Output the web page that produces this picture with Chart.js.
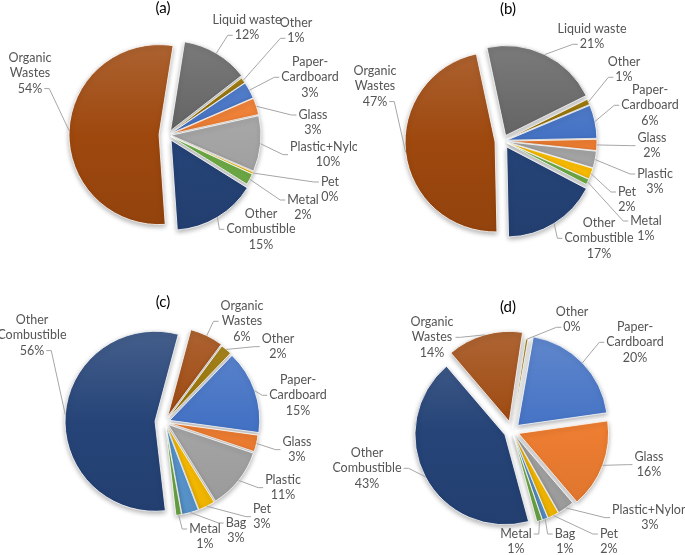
<!DOCTYPE html>
<html>
<head>
<meta charset="utf-8">
<script src="https://cdn.jsdelivr.net/npm/chart.js@4.4.0/dist/chart.umd.min.js"></script>
<style>
  html, body { margin: 0; padding: 0; background: #fff; }
  #wrap { position: relative; width: 685px; height: 555px; overflow: hidden; }
  canvas { position: absolute; }
</style>
</head>
<body>
<div id="wrap">
  <canvas id="chartA" width="357" height="277" style="left:0;top:0"></canvas>
  <canvas id="chartB" width="343" height="277" style="left:342px;top:0"></canvas>
  <canvas id="chartC" width="342" height="278" style="left:0;top:277px"></canvas>
  <canvas id="chartD" width="355" height="278" style="left:330px;top:277px"></canvas>
</div>
<script>
"use strict";

// (a)
const catsA = ["Liquid waste", "Other", "Paper-Cardboard", "Glass", "Plastic+Nylon", "Pet", "Metal", "Other Combustible", "Organic Wastes"];
const valsA = [12, 1, 3, 3, 10, 0.4, 2, 15, 53.6];

// (b)
const catsB = ["Liquid waste", "Other", "Paper-Cardboard", "Glass", "Plastic", "Pet", "Metal", "Other Combustible", "Organic Wastes"];
const valsB = [21, 1, 6, 2, 3, 2, 1, 17, 47];

// (c)
const catsC = ["Organic Wastes", "Other", "Paper-Cardboard", "Glass", "Plastic", "Pet", "Bag", "Metal", "Other Combustible"];
const valsC = [6, 2, 15, 3, 11, 3, 3, 1, 56];

// (d)
const catsD = ["Other", "Paper-Cardboard", "Glass", "Plastic+Nylon", "Pet", "Bag", "Metal", "Other Combustible", "Organic Wastes"];
const valsD = [0.4, 20, 16, 3, 2, 1, 1, 43, 13.6];

const colours = {
  "Paper-Cardboard": "#4472C4",
  "Glass": "#ED7D31",
  "Plastic+Nylon": "#A5A5A5",
  "Plastic": "#A5A5A5",
  "Pet": "#FFC000",
  "Bag": "#5B9BD5",
  "Metal": "#70AD47",
  "Other Combustible": "#264478",
  "Organic Wastes": "#9E480E",
  "Liquid waste": "#636363",
  "Other": "#997300"
};

const wraps = {
  "Paper-Cardboard": ["Paper-", "Cardboard"],
  "Organic Wastes": ["Organic", "Wastes"],
  "Other Combustible": ["Other", "Combustible"]
};

const FONT = "12.5px Lato";
const LH = 15.3;

function shade(hex, t) {
  const n = parseInt(hex.slice(1), 16);
  const f = c => Math.round(t > 0 ? c + (255 - c) * t : c * (1 + t));
  return "rgb(" + f(n >> 16) + "," + f((n >> 8) & 255) + "," + f(n & 255) + ")";
}

function drawLeader(ctx, anchor, lines, pos) {
  const widths = lines.map(t => ctx.measureText(t).width);
  const top = pos[1] - LH / 2;
  const bottom = pos[1] + (lines.length - 0.5) * LH;
  const leftSide = anchor.x < pos[0];
  let ax, ay;
  if (anchor.y >= top && anchor.y <= bottom) {
    const w = Math.max(...widths);
    ay = (top + bottom) / 2;
    ax = leftSide ? pos[0] - w / 2 - 2 : pos[0] + w / 2 + 2;
  } else {
    const i = anchor.y < top ? 0 : lines.length - 1;
    ay = pos[1] + i * LH;
    ax = leftSide ? pos[0] - widths[i] / 2 - 2 : pos[0] + widths[i] / 2 + 2;
  }
  const stub = leftSide ? -5 : 5;
  ctx.beginPath();
  ctx.moveTo(ax, ay);
  ctx.lineTo(ax + stub, ay);
  ctx.lineTo(anchor.x, anchor.y);
  ctx.stroke();
}

function makePie(cfg) {
  const canvas = document.getElementById(cfg.id);
  const w = canvas.width, h = canvas.height;
  const total = cfg.vals.reduce((a, b) => a + b, 0);

  // pull each slice out from the centre, like Excel's point explosion
  const explode = {
    id: "explode",
    afterDatasetUpdate(chart, args) {
      args.meta.data.forEach((arc, i) => {
        const mid = (arc.startAngle + arc.endAngle) / 2;
        arc.x += Math.cos(mid) * cfg.explode[i];
        arc.y += Math.sin(mid) * cfg.explode[i];
      });
    }
  };

  const shadow = {
    id: "shadow",
    beforeDatasetsDraw(chart) {
      const ctx = chart.ctx;
      ctx.save();
      ctx.shadowColor = "rgba(0,0,0,0.3)";
      ctx.shadowBlur = 5;
      ctx.shadowOffsetX = 0;
      ctx.shadowOffsetY = 2;
    },
    afterDatasetsDraw(chart) {
      chart.ctx.restore();
    }
  };

  const labels = {
    id: "labels",
    afterDraw(chart) {
      const ctx = chart.ctx;
      ctx.save();
      ctx.font = "15px Lato";
      ctx.fillStyle = "#000";
      ctx.textAlign = "center";
      ctx.textBaseline = "middle";
      ctx.fillText(cfg.title, cfg.titlePos[0], cfg.titlePos[1]);

      ctx.font = FONT;
      ctx.strokeStyle = "#a6a6a6";
      ctx.lineWidth = 1;
      chart.getDatasetMeta(0).data.forEach((arc, i) => {
        const name = cfg.cats[i];
        const lines = (wraps[name] || [name]).concat([Math.round(cfg.vals[i] / total * 100) + "%"]);
        const pos = cfg.labelPos[i];
        const mid = (arc.startAngle + arc.endAngle) / 2;
        const anchor = { x: arc.x + Math.cos(mid) * arc.outerRadius, y: arc.y + Math.sin(mid) * arc.outerRadius };
        drawLeader(ctx, anchor, lines, pos);
        ctx.fillStyle = "#555555";
        lines.forEach((t, k) => ctx.fillText(t, pos[0], pos[1] + k * LH));
      });
      ctx.restore();
    }
  };

  return new Chart(canvas, {
    type: "pie",
    data: {
      labels: cfg.cats,
      datasets: [{
        data: cfg.vals,
        radius: cfg.radius,
        clip: false,
        borderColor: "#ffffff",
        borderWidth: 0.8,
        backgroundColor: (c) => {
          const base = colours[cfg.cats[c.dataIndex]];
          const area = c.chart.chartArea;
          if (!area) return base;
          const cy = (area.top + area.bottom) / 2;
          const g = c.chart.ctx.createLinearGradient(0, cy - cfg.radius, 0, cy + cfg.radius);
          g.addColorStop(0, shade(base, 0.14));
          g.addColorStop(0.5, base);
          g.addColorStop(1, shade(base, -0.07));
          return g;
        }
      }]
    },
    options: {
      responsive: false,
      animation: false,
      events: [],
      rotation: cfg.rotation,
      layout: {
        padding: {
          left: Math.max(0, 2 * cfg.center[0] - w),
          right: Math.max(0, w - 2 * cfg.center[0]),
          top: Math.max(0, 2 * cfg.center[1] - h),
          bottom: Math.max(0, h - 2 * cfg.center[1])
        }
      },
      plugins: {
        legend: { display: false },
        title: { display: false },
        tooltip: { enabled: false }
      }
    },
    plugins: [explode, shadow, labels]
  });
}

makePie({
  id: "chartA", cats: catsA, vals: valsA, title: "(a)", titlePos: [163, 8],
  rotation: 9, center: [168, 135], radius: 90,
  explode: [5, 3, 3, 3, 3, 3, 3, 6, 9],
  labelPos: [[247, 20], [296, 23], [310, 62], [313, 115], [328, 147], [330, 182], [303, 200], [261, 214], [30, 58]]
});

makePie({
  id: "chartB", cats: catsB, vals: valsB, title: "(b)", titlePos: [166, 9],
  rotation: -12, center: [161, 141], radius: 90,
  explode: [6, 4, 4, 4, 4, 4, 4, 7, 8],
  labelPos: [[250, 29], [282, 62], [308, 90], [310, 138], [313, 174], [285, 192], [304, 221], [257, 223], [33, 71]]
});

makePie({
  id: "chartC", cats: catsC, vals: valsC, title: "(c)", titlePos: [163, 25],
  rotation: 15, center: [165, 145], radius: 90,
  explode: [6, 5, 5, 4, 4, 4, 4, 4, 10],
  labelPos: [[242, 29], [278, 62], [298, 103], [297, 165], [283, 203], [262, 232], [236, 246], [205, 252], [32, 43]]
});

makePie({
  id: "chartD", cats: catsD, vals: valsD, title: "(d)", titlePos: [178, 30],
  rotation: 8.5, center: [182, 154], radius: 90,
  explode: [3, 8, 7, 4, 4, 4, 4, 8, 10],
  labelPos: [[242, 35], [305, 50], [319, 180], [320, 233], [279, 257], [235, 257], [186, 257], [37, 176], [102, 45]]
});
</script>
</body>
</html>
